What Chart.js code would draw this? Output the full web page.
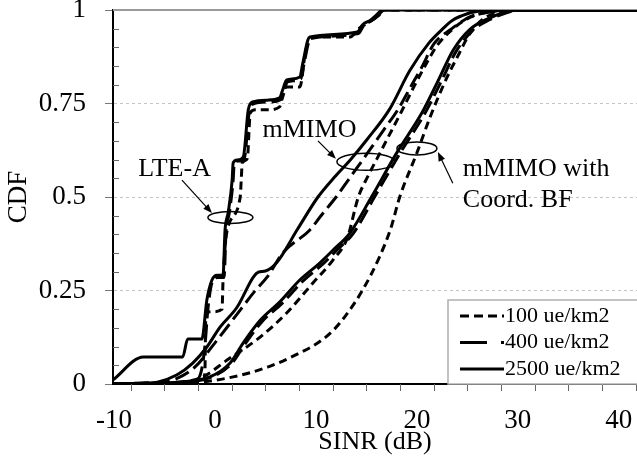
<!DOCTYPE html>
<html>
<head>
<meta charset="utf-8">
<script src="https://cdn.jsdelivr.net/npm/chart.js@4.4.1/dist/chart.umd.min.js"></script>
<style>
  html, body { margin: 0; padding: 0; background: #fff; }
  canvas { display: block; }
</style>
</head>
<body>
<canvas id="cdf" width="637" height="466"></canvas>
<script>
// [SINR dB, CDF] pairs
const lteA100 = [[-10.1,0],[-4,0.003],[-1.2,0.006],[-1.0,0.03],[-0.9,0.19],[-0.2,0.193],[0.7,0.2],[0.8,0.278],[1.2,0.41],[2.5,0.5],[2.6,0.545],[2.7,0.591],[3.2,0.603],[3.5,0.725],[4.0,0.733],[5.2,0.733],[6.4,0.741],[6.7,0.767],[7.1,0.794],[8.4,0.794],[9.0,0.893],[9.7,0.928],[13.4,0.928],[14.1,0.947],[15.1,0.965],[16.0,0.981],[16.8,1],[42,1]];
const lteA400 = [[-10.1,0],[-5,0.004],[-2,0.01],[-1.4,0.03],[-1.0,0.1],[-0.7,0.2],[-0.3,0.27],[0.3,0.285],[0.9,0.285],[1.1,0.41],[1.4,0.455],[1.8,0.545],[1.9,0.588],[2.3,0.596],[2.9,0.603],[3.4,0.728],[3.8,0.749],[5.3,0.754],[6.5,0.76],[6.8,0.781],[7.2,0.808],[8.5,0.816],[8.8,0.853],[9.3,0.916],[9.5,0.924],[14.2,0.937],[14.7,0.957],[15.5,0.971],[16.2,0.985],[16.8,1],[42,1]];
const lteA2500 = [[-10.1,0.011],[-7.1,0.072],[-3.2,0.072],[-2.7,0.12],[-1.3,0.12],[-0.8,0.225],[-0.3,0.278],[0.2,0.291],[0.8,0.291],[1.0,0.412],[1.3,0.457],[1.7,0.545],[1.8,0.591],[2.2,0.599],[2.8,0.607],[3.3,0.733],[3.7,0.754],[5.2,0.759],[6.4,0.765],[6.7,0.786],[7.1,0.813],[8.4,0.821],[8.7,0.858],[9.2,0.92],[9.4,0.928],[14.1,0.941],[14.6,0.96],[15.4,0.973],[16.0,0.987],[16.6,1],[42,1]];

const mimo100 = [[-10.1,0],[-6,0.001],[-3,0.006],[-1.2,0.019],[1.2,0.064],[4.5,0.126],[7.1,0.19],[9.7,0.27],[11.7,0.332],[13.1,0.39],[14.2,0.5],[15.1,0.553],[16.0,0.6],[17.0,0.652],[18.5,0.73],[19.8,0.8],[20.9,0.855],[22.0,0.905],[23.5,0.948],[25.3,0.981],[27.5,0.996],[29,1],[42,1]];
const mimo400 = [[-10.1,0],[-6,0.002],[-4,0.012],[-2,0.045],[0,0.11],[2,0.18],[4,0.25],[5.2,0.287],[6.7,0.35],[9.4,0.412],[10.5,0.45],[12.0,0.5],[13.4,0.553],[15.1,0.617],[16.7,0.679],[18.1,0.733],[19.5,0.8],[20.5,0.848],[21.7,0.91],[23.3,0.947],[25.3,0.982],[28.1,0.997],[29,1],[42,1]];
const mimo2500 = [[-10.1,0],[-7,0.002],[-5.7,0.005],[-3.8,0.024],[-2.2,0.056],[-0.8,0.099],[0.5,0.152],[2.2,0.206],[3.8,0.286],[4.3,0.299],[5.0,0.302],[6.1,0.324],[8.2,0.415],[10.2,0.5],[11.8,0.552],[13.4,0.599],[15.1,0.655],[17.3,0.735],[19.3,0.838],[21.2,0.912],[22.5,0.948],[23.5,0.972],[25.0,0.99],[26.5,0.998],[28,1],[42,1]];

const coord100 = [[-10.1,0],[-5,0.001],[-1.5,0.005],[1.8,0.019],[5.2,0.045],[8.4,0.083],[10.2,0.11],[11.7,0.143],[13.0,0.185],[14.6,0.25],[16.3,0.34],[17.4,0.415],[18.3,0.5],[20.0,0.618],[21.4,0.72],[23.0,0.821],[24.0,0.874],[25.2,0.935],[26.5,0.975],[28,0.993],[30,1],[42,1]];
const coord400 = [[-10.1,0],[-6,0.001],[-4.2,0.003],[-0.3,0.019],[1.7,0.056],[3.0,0.108],[4.7,0.168],[6.7,0.217],[8.7,0.275],[10.7,0.321],[12.0,0.356],[13.7,0.403],[15.8,0.5],[18.3,0.616],[20.8,0.724],[22.3,0.803],[23.9,0.89],[25.5,0.945],[27.2,0.974],[28.8,0.992],[30.3,1],[42,1]];
const coord2500 = [[-10.1,0],[-6,0.001],[-4.5,0.003],[-0.5,0.019],[1.5,0.056],[2.8,0.11],[4.5,0.171],[6.4,0.219],[8.4,0.278],[10.4,0.324],[11.7,0.358],[13.4,0.405],[15.5,0.5],[18.0,0.618],[20.5,0.725],[22.0,0.805],[23.6,0.893],[25.2,0.947],[26.9,0.975],[28.5,0.992],[30,1],[42,1]];

const xTicks = [-10, 0, 10, 20, 30, 40];
const yTicks = [0, 0.25, 0.5, 0.75, 1];
const densities = ['100 ue/km2', '400 ue/km2', '2500 ue/km2'];

// text notes: label lines, anchor in [dB, CDF]
const notes = [
  { lines: ['LTE-A'], at: [-4.0, 0.575], align: 'center' },
  { lines: ['mMIMO'], at: [9.36, 0.68], align: 'center' },
  { lines: ['mMIMO with', 'Coord. BF'], at: [24.55, 0.575], align: 'left' }
];
const rings = [[1.53, 0.445, 22.5, 6], [14.95, 0.594, 29, 8.5], [20.0, 0.63, 20, 6.5]];
const arrows = [[-3.27, 0.545, -0.3, 0.457], [10.2, 0.65, 11.98, 0.602], [23.56, 0.537, 22.08, 0.62]];

const dashes = { short: [8, 5], long: [15, 6], solid: [] };
const legendDash = [[9, 5], [27, 14], []];
const serif = 'Liberation Serif';

const pts = arr => arr.map(([x, y]) => ({ x, y }));
function line(label, data, dash) {
    return {
        label: label,
        data: pts(data),
        borderColor: '#000',
        borderWidth: 3,
        borderDash: dash,
        pointRadius: 0,
        fill: false,
        cubicInterpolationMode: 'monotone'
    };
}

const decor = {
    id: 'decor',
    beforeDatasetsDraw(chart) {
        const { ctx, chartArea } = chart;
        const y = chart.scales.y.getPixelForValue(1);
        ctx.save();
        ctx.strokeStyle = '#9a9a9a';
        ctx.lineWidth = 2;
        ctx.beginPath();
        ctx.moveTo(chartArea.left, y);
        ctx.lineTo(chartArea.right, y);
        ctx.stroke();
        ctx.restore();
    },
    afterDraw(chart) {
        const { ctx, chartArea } = chart;
        const xs = chart.scales.x, ys = chart.scales.y;
        ctx.save();

        // minor ticks, y inside, x below
        ctx.strokeStyle = '#666';
        ctx.lineWidth = 1;
        ctx.beginPath();
        for (let i = 1; i < 20; i++) {
            if (i % 5 === 0) continue;
            const py = Math.round(ys.getPixelForValue(i * 0.05)) + 0.5;
            ctx.moveTo(chartArea.left, py);
            ctx.lineTo(chartArea.left + 6, py);
        }
        for (let v = 5 / 3 - 10; v < xs.max; v += 10 / 3) {
            if (v <= xs.min) continue;
            const px = Math.round(xs.getPixelForValue(v)) + 0.5;
            ctx.moveTo(px, chartArea.bottom);
            ctx.lineTo(px, chartArea.bottom + 7);
        }
        ctx.stroke();

        // ellipses + arrows
        ctx.strokeStyle = '#000';
        ctx.fillStyle = '#000';
        ctx.lineWidth = 1.5;
        rings.forEach(([x, y, rx, ry]) => {
            ctx.beginPath();
            ctx.ellipse(xs.getPixelForValue(x), ys.getPixelForValue(y), rx, ry, 0, 0, Math.PI * 2);
            ctx.stroke();
        });
        arrows.forEach(([x1, y1, x2, y2]) => {
            const ax = xs.getPixelForValue(x1), ay = ys.getPixelForValue(y1);
            const bx = xs.getPixelForValue(x2), by = ys.getPixelForValue(y2);
            const a = Math.atan2(by - ay, bx - ax);
            ctx.lineWidth = 1.2;
            ctx.beginPath();
            ctx.moveTo(ax, ay);
            ctx.lineTo(bx - 6 * Math.cos(a), by - 6 * Math.sin(a));
            ctx.stroke();
            ctx.beginPath();
            ctx.moveTo(bx, by);
            ctx.lineTo(bx - 9 * Math.cos(a) + 3.5 * Math.sin(a), by - 9 * Math.sin(a) - 3.5 * Math.cos(a));
            ctx.lineTo(bx - 9 * Math.cos(a) - 3.5 * Math.sin(a), by - 9 * Math.sin(a) + 3.5 * Math.cos(a));
            ctx.closePath();
            ctx.fill();
        });

        ctx.font = '26px "' + serif + '"';
        ctx.textBaseline = 'middle';
        notes.forEach(n => {
            ctx.textAlign = n.align;
            const x = xs.getPixelForValue(n.at[0]);
            const y = ys.getPixelForValue(n.at[1]);
            n.lines.forEach((t, i) => ctx.fillText(t, x, y + i * 31));
        });

        // legend box, bottom right of plot
        const bx = chartArea.right - 189, by = chartArea.bottom - 84;
        ctx.fillStyle = '#fff';
        ctx.fillRect(bx, by, 192, 84);
        ctx.strokeStyle = '#b0b0b0';
        ctx.lineWidth = 1.5;
        ctx.strokeRect(bx, by, 192, 84);
        ctx.fillStyle = '#000';
        ctx.font = '22px "' + serif + '"';
        ctx.textAlign = 'left';
        densities.forEach((d, i) => {
            const y = by + 16 + i * 26.5;
            ctx.strokeStyle = '#000';
            ctx.lineWidth = 3;
            ctx.setLineDash(legendDash[i]);
            ctx.beginPath();
            ctx.moveTo(bx + 12, y);
            ctx.lineTo(bx + 56, y);
            ctx.stroke();
            ctx.setLineDash([]);
            ctx.fillText(d, bx + 57, y);
        });
        ctx.restore();
    }
};

Chart.defaults.font.family = serif;
Chart.defaults.color = '#000';

new Chart(document.getElementById('cdf'), {
    type: 'line',
    data: {
        datasets: [
            line(densities[0], lteA100, dashes.short),
            line(densities[1], lteA400, dashes.long),
            line(densities[2], lteA2500, dashes.solid),
            line(densities[0], mimo100, dashes.short),
            line(densities[1], mimo400, dashes.long),
            line(densities[2], mimo2500, dashes.solid),
            line(densities[0], coord100, dashes.short),
            line(densities[1], coord400, dashes.long),
            line(densities[2], coord2500, dashes.solid)
        ]
    },
    options: {
        responsive: false,
        animation: false,
        devicePixelRatio: 1,
        layout: { padding: { top: 10, right: 0, bottom: 0, left: 0 } },
        plugins: { legend: { display: false }, tooltip: { enabled: false } },
        scales: {
            x: {
                type: 'linear',
                min: -10.1,
                max: 41.8,
                afterBuildTicks: s => { s.ticks = xTicks.map(v => ({ value: v })); },
                afterFit: s => { s.height = 82; s.paddingLeft = 0; s.paddingRight = 0; },
                ticks: { font: { size: 27 }, padding: 21, maxRotation: 0, callback: v => String(v) },
                grid: { display: false, drawTicks: false },
                border: { display: true, color: '#000', width: 2 },
                title: { display: true, text: 'SINR (dB)', font: { size: 26 }, padding: { top: 0, bottom: 8 } }
            },
            y: {
                min: 0,
                max: 1,
                afterBuildTicks: s => { s.ticks = yTicks.map(v => ({ value: v })); },
                afterFit: s => { s.width = 113; s.paddingTop = 0; s.paddingBottom = 0; },
                ticks: { font: { size: 27 }, padding: 19, callback: v => String(v) },
                grid: {
                    color: c => (c.tick && c.tick.value > 0 && c.tick.value < 1) ? '#c4c4c4' : 'rgba(0,0,0,0)',
                    lineWidth: 1,
                    tickLength: 8,
                    tickColor: '#777',
                    tickWidth: 1
                },
                border: { display: true, color: '#000', width: 2, dash: [3, 3] },
                title: { display: true, text: 'CDF', font: { size: 27 }, padding: { top: 3, bottom: 0 } }
            }
        }
    },
    plugins: [decor]
});
</script>
</body>
</html>
